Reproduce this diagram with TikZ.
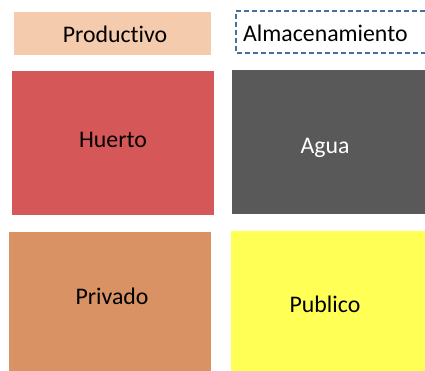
\documentclass[tikz,border=0pt]{standalone}
\usepackage{fontspec}
\setmainfont{Carlito}[Ligatures=NoCommon]
\usetikzlibrary{positioning}

\definecolor{prodfill}{HTML}{F5CBAD}
\definecolor{almline}{HTML}{41719C}
\definecolor{huertofill}{HTML}{D55757}
\definecolor{aguafill}{HTML}{595959}
\definecolor{privfill}{HTML}{D99264}
\definecolor{pubfill}{HTML}{FFFF55}

\begin{document}
\begin{tikzpicture}[x=1pt, y=-1pt]
  % --- Styles (text set as labels so it can sit off-centre like the original) ---
    \tikzset{
      cell/.style    = {rectangle, inner sep=0pt, outer sep=0pt, anchor=north west},
      tag/.style     = {cell, minimum height=43pt},
      bigcell/.style = {cell, minimum width=202pt, minimum height=144pt},
      store/.style   = {cell, minimum width=189pt, minimum height=42pt},
      storeline/.style = {draw=almline, line width=2pt, dash pattern=on 5pt off 3pt},
      every label/.style = {inner sep=0pt, text height=15.3pt, text depth=0pt,
                            font=\fontsize{23.8}{28}\selectfont}
    }

    \useasboundingbox (0,0) rectangle (425,371);
    \fill[white] (0,0) rectangle (425,371);

    % --- Top tags ---
    \node[tag, fill=prodfill, minimum width=197pt,
          label={[xshift=2.5pt, yshift=-1.5pt]center:Productivo}] (prod) at (14,12) {};
    \node[store, label={[anchor=west, xshift=7pt, yshift=-2.3pt]west:Almacenamiento}] (alm) at (236,11) {};
    \draw[storeline] (alm.north east) -- (alm.north west) -- (alm.south west) -- (alm.south east);

    % --- Grid of boxes ---
    \node[bigcell, fill=huertofill, below=16pt of prod.south west, anchor=north west, xshift=-2pt,
          label={[yshift=3.5pt]center:Huerto}] (huerto) {};
    \node[bigcell, fill=aguafill, minimum width=193pt, right=18pt of huerto.north east, anchor=north west, yshift=1pt,
          label={[text=white, xshift=-3.5pt, yshift=-4pt]center:Agua}] (agua) {};
    \node[bigcell, fill=privfill, minimum height=139pt, below=17pt of huerto.south west, anchor=north west, xshift=-3pt,
          label={[xshift=2pt, yshift=4.5pt]center:Privado}] (priv) {};
    \node[bigcell, fill=pubfill, minimum width=194pt, minimum height=140pt, right=20pt of priv.north east, anchor=north west, yshift=1pt,
          label={[xshift=-3pt, yshift=-4pt]center:Publico}] (pub) {};

\end{tikzpicture}
\end{document}
